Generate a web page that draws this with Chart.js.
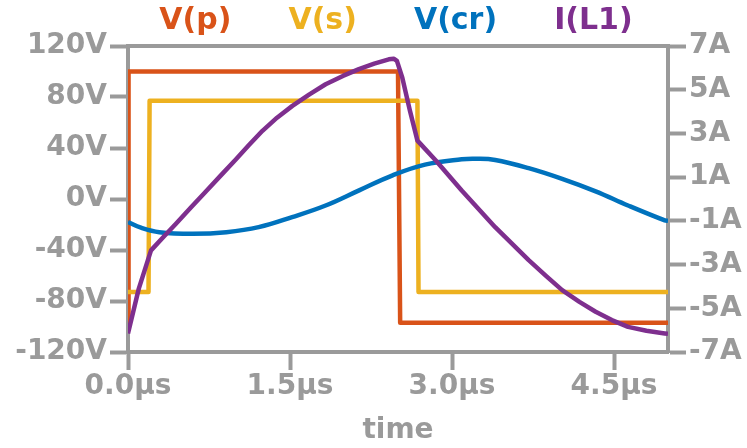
<!DOCTYPE html>
<html>
<head>
<meta charset="utf-8">
<script src="https://cdn.jsdelivr.net/npm/chart.js@4.4.1/dist/chart.umd.min.js"></script>
<style>
  html, body { margin: 0; padding: 0; background: #ffffff; }
  canvas { display: block; }
</style>
</head>
<body>
<canvas id="waves" width="747" height="448"></canvas>
<script>
// time axis in microseconds
var xTicks = [0, 1.5, 3.0, 4.5];
var voltTicks = [-120, -80, -40, 0, 40, 80, 120];
var ampTicks = [-7, -5, -3, -1, 1, 3, 5, 7];

var seriesNames = ["V(p)", "V(s)", "V(cr)", "I(L1)"];
var seriesColors = ["#D95319", "#EDB120", "#0072BD", "#7E2F8E"];

// V(p)
var timeVp = [0, 0.005, 2.50, 2.52, 5.0];
var voltsVp = [-97, 100, 100, -97, -97];

// V(s)
var timeVs = [0, 0.19, 0.20, 2.68, 2.69, 5.0];
var voltsVs = [-73, -73, 77, 77, -73, -73];

// V(cr)
var timeCr = [0, 0.12, 0.29, 0.60, 0.91, 1.21, 1.52, 1.83, 2.14, 2.45, 2.75, 3.09, 3.22, 3.40, 3.71, 4.02, 4.33, 4.63, 4.97, 5.0];
var voltsCr = [-18.1, -22.5, -26.0, -27.2, -26.0, -22.1, -14.2, -5.1, 6.8, 18.6, 27.0, 31.2, 31.6, 30.6, 24.2, 15.8, 6.0, -5.1, -16.8, -17.1];

// I(L1)
var timeL1 = [0, 0.10, 0.213, 0.33, 0.444, 0.58, 0.721, 0.86, 0.998, 1.12, 1.245, 1.38, 1.522, 1.68, 1.830, 1.99, 2.138, 2.28, 2.415, 2.46, 2.49, 2.54, 2.61, 2.68, 2.85, 3.09, 3.40, 3.71, 3.87, 4.02, 4.18, 4.33, 4.48, 4.63, 4.80, 4.97, 5.0];
var ampsL1 = [-6.15, -4.1, -2.35, -1.73, -1.13, -0.40, 0.34, 1.08, 1.81, 2.47, 3.12, 3.72, 4.26, 4.79, 5.25, 5.63, 5.94, 6.19, 6.39, 6.42, 6.32, 5.55, 4.05, 2.67, 1.76, 0.39, -1.29, -2.80, -3.52, -4.17, -4.71, -5.16, -5.54, -5.85, -6.03, -6.15, -6.17];

var gray = "#9a9a9a";
var tickFont = { family: "DejaVu Sans", weight: "bold", size: 28 };

function pairs(xs, ys) {
    return xs.map(function(x, i) { return { x: x, y: ys[i] }; });
}

function fixTicks(values) {
    return function(scale) {
        scale.ticks = values.map(function(v) { return { value: v }; });
    };
}

// top frame line of the plot box
var topFrame = {
    id: "topFrame",
    afterDraw: function(chart) {
        var a = chart.chartArea;
        var c = chart.ctx;
        c.save();
        c.strokeStyle = gray;
        c.lineWidth = 4;
        c.beginPath();
        c.moveTo(a.left, a.top);
        c.lineTo(a.right, a.top);
        c.stroke();
        c.restore();
    }
};

var ctx = document.getElementById("waves");

var chart = new Chart(ctx, {
    type: "line",
    data: {
        datasets: [{
            label: seriesNames[0],
            data: pairs(timeVp, voltsVp),
            borderColor: seriesColors[0],
            yAxisID: "y",
            tension: 0,
            order: 4
        }, {
            label: seriesNames[1],
            data: pairs(timeVs, voltsVs),
            borderColor: seriesColors[1],
            yAxisID: "y",
            tension: 0,
            order: 3
        }, {
            label: seriesNames[2],
            data: pairs(timeCr, voltsCr),
            borderColor: seriesColors[2],
            yAxisID: "y",
            tension: 0.4,
            order: 2
        }, {
            label: seriesNames[3],
            data: pairs(timeL1, ampsL1),
            borderColor: seriesColors[3],
            yAxisID: "y1",
            tension: 0,
            order: 1
        }]
    },
    plugins: [topFrame],
    options: {
        responsive: false,
        animation: false,
        devicePixelRatio: 1,
        layout: {
            padding: { top: -6, left: 0, right: 0, bottom: 0 }
        },
        elements: {
            point: { radius: 0 },
            line: { borderWidth: 4.5, borderCapStyle: "butt", borderJoinStyle: "round" }
        },
        plugins: {
            tooltip: { enabled: false },
            legend: {
                position: "top",
                labels: {
                    boxWidth: 30,
                    boxHeight: 0,
                    padding: 12,
                    font: { family: "DejaVu Sans", weight: "bold", size: 30 },
                    generateLabels: function(chart) {
                        return chart.data.datasets.map(function(ds, i) {
                            return {
                                text: ds.label,
                                fontColor: ds.borderColor,
                                fillStyle: "rgba(0,0,0,0)",
                                strokeStyle: "rgba(0,0,0,0)",
                                lineWidth: 0,
                                hidden: false,
                                datasetIndex: i
                            };
                        });
                    }
                }
            }
        },
        scales: {
            x: {
                type: "linear",
                min: 0,
                max: 5.0,
                afterBuildTicks: fixTicks(xTicks),
                afterFit: function(scale) { scale.height = 96; },
                grid: { drawOnChartArea: false, tickLength: 18, tickWidth: 4, tickColor: gray },
                border: { color: gray, width: 4 },
                ticks: {
                    color: gray,
                    font: tickFont,
                    padding: 0,
                    maxRotation: 0,
                    autoSkip: false,
                    callback: function(v) { return v.toFixed(1) + "\u00b5s"; }
                },
                title: {
                    display: true,
                    text: "time",
                    color: gray,
                    font: tickFont,
                    padding: { top: 4, bottom: 0 }
                }
            },
            y: {
                position: "left",
                min: -120,
                max: 120,
                afterBuildTicks: fixTicks(voltTicks),
                afterFit: function(scale) { scale.width = 128; },
                grid: { drawOnChartArea: false, tickLength: 18, tickWidth: 4, tickColor: gray },
                border: { color: gray, width: 4 },
                ticks: {
                    color: gray,
                    font: tickFont,
                    padding: 3,
                    autoSkip: false,
                    callback: function(v) { return v + "V"; }
                }
            },
            y1: {
                position: "right",
                min: -7,
                max: 7,
                afterBuildTicks: fixTicks(ampTicks),
                afterFit: function(scale) { scale.width = 79; },
                grid: { drawOnChartArea: false, tickLength: 18, tickWidth: 4, tickColor: gray },
                border: { color: gray, width: 4 },
                ticks: {
                    color: gray,
                    font: tickFont,
                    padding: 3,
                    autoSkip: false,
                    callback: function(v) { return v + "A"; }
                }
            }
        }
    }
});
</script>
</body>
</html>
